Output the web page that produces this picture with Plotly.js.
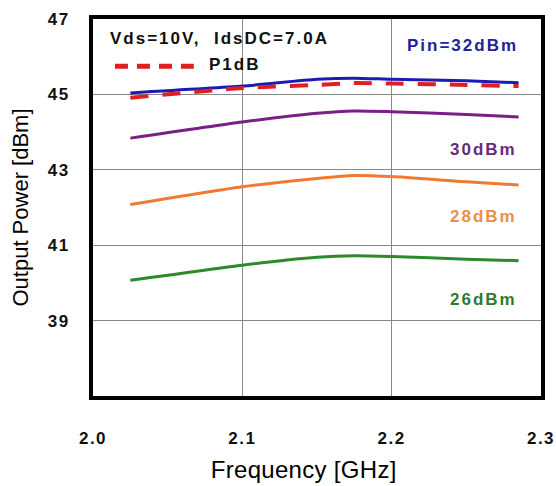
<!DOCTYPE html>
<html>
<head>
<meta charset="utf-8">
<script src="https://cdn.plot.ly/plotly-3.0.1.min.js"></script>
<style>
html,body{margin:0;padding:0;background:#fff;}
#chart{width:556px;height:486px;}
.annotation-text{letter-spacing:2px;}
.annotation.xtitle-ann .annotation-text{letter-spacing:0.3px;}
.xtick text,.ytick text{letter-spacing:1.5px;}
</style>
</head>
<body>
<div id="chart"></div>
<script>
// Frequency [GHz]
const freq = [2.025, 2.1, 2.15, 2.175, 2.2, 2.25, 2.285];
// Output power [dBm]
const pin32 = [45.04, 45.22, 45.40, 45.43, 45.40, 45.36, 45.31];
const p1db  = [44.91, 45.17, 45.25, 45.30, 45.29, 45.25, 45.22];
const pin30 = [43.84, 44.27, 44.50, 44.56, 44.54, 44.47, 44.40];
const pin28 = [42.08, 42.55, 42.77, 42.85, 42.82, 42.68, 42.60];
const pin26 = [40.07, 40.47, 40.68, 40.72, 40.70, 40.63, 40.59];

const xTicks = [2.0, 2.1, 2.2, 2.3];
const xTickText = ['2.0', '2.1', '2.2', '2.3'];
const yTicks = [39, 41, 43, 45, 47];

const FONT = 'Liberation Sans, Arial, sans-serif';

function series(y, color, width, dash) {
  return {x: freq, y: y, type: 'scatter', mode: 'lines',
    line: {color: color, width: width, dash: dash || 'solid', shape: 'spline', smoothing: 0.6},
    hoverinfo: 'skip', showlegend: false};
}

const data = [
  series(pin26, '#2b8a2b', 3),
  series(pin28, '#f07a30', 3),
  series(pin30, '#7a1f85', 3),
  series(pin32, '#1c1cb4', 3),
  series(p1db, '#e02020', 4, '18px,14px')
];

function label(text, x, y, color, anchor) {
  return {xref: 'paper', yref: 'paper', x: x, y: y, text: '<b>' + text + '</b>',
    showarrow: false, xanchor: anchor, yanchor: 'middle',
    font: {family: FONT, size: 17, color: color}};
}

const layout = {
  width: 556, height: 486,
  margin: {l: 93, r: 15, t: 19, b: 90},
  paper_bgcolor: '#fff', plot_bgcolor: '#fff',
  font: {family: FONT, color: '#000'},
  xaxis: {
    range: [2.0, 2.3], tickvals: xTicks, ticktext: xTickText,
    showgrid: true, gridcolor: '#888', gridwidth: 1,
    showline: true, linecolor: '#000', linewidth: 4, mirror: true,
    ticks: '', ticklabelstandoff: 24, zeroline: false,
    tickfont: {family: FONT, size: 17, color: '#111', weight: 'bold'}
  },
  yaxis: {
    range: [37, 47], tickvals: yTicks,
    showgrid: true, gridcolor: '#888', gridwidth: 1,
    showline: true, linecolor: '#000', linewidth: 4, mirror: true,
    ticks: '', ticklabelstandoff: 16, zeroline: false,
    tickfont: {family: FONT, size: 17, color: '#111', weight: 'bold'},
    title: {text: 'Output Power [dBm]', font: {family: FONT, size: 22, color: '#000'}, standoff: 14}
  },
  annotations: [
    label('Vds=10V,  IdsDC=7.0A', 0.033, 0.947, '#111', 'left'),
    label('P1dB', 0.254, 0.878, '#111', 'left'),
    label('Pin=32dBm', 0.953, 0.931, '#22229a', 'right'),
    label('30dBm', 0.951, 0.655, '#6a2a7a', 'right'),
    label('28dBm', 0.951, 0.475, '#e8904a', 'right'),
    label('26dBm', 0.951, 0.255, '#2f7a2f', 'right'),
    {xref: 'paper', yref: 'paper', x: 0.469, y: -0.195, text: 'Frequency [GHz]',
     showarrow: false, xanchor: 'center', yanchor: 'middle',
     font: {family: FONT, size: 24, color: '#000'}}
  ],
  shapes: [
    {type: 'line', xref: 'paper', yref: 'paper', x0: 0.049, x1: 0.225, y0: 0.875, y1: 0.875,
     line: {color: '#e02020', width: 5, dash: '13px,9px'}}
  ]
};

Plotly.newPlot('chart', data, layout, {displayModeBar: false, staticPlot: true}).then(function(){
  const anns = document.querySelectorAll('.annotation');
  if (anns.length) anns[anns.length - 1].classList.add('xtitle-ann');
});
</script>
</body>
</html>
